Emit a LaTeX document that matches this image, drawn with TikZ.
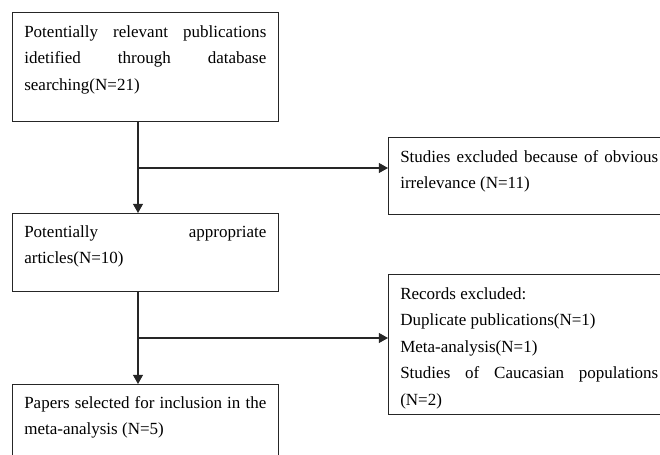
\documentclass[tikz,border=0pt]{standalone}
\usepackage{fontspec}
\setmainfont{Liberation Serif}
\usepackage{tikz}
\usetikzlibrary{%
  arrows.meta,%
  calc,%
}

\begin{document}
\begin{tikzpicture}[x=0.025cm, y=-0.025cm,
    >={Triangle[length=2.3mm, width=2.5mm]},
    box/.style={draw=black!85, line width=0.8pt, anchor=north west,
      inner sep=0pt},
    txt/.style={anchor=base west, inner sep=0pt, align=justify,
      font=\fontsize{12.1}{18.9}\selectfont},
    link/.style={draw=black!85, line width=0.9pt}]

      \useasboundingbox (0, 0) rectangle (660, 455);
      \clip (0, 0) rectangle (660, 455);

      % left column
      \node[box, minimum width=6.65cm, minimum height=2.725cm] (pub) at (12, 12) {};
      \node[txt, text width=6.05cm] (pubtxt) at (24, 37)
        {Potentially relevant publications\linebreak
         idetified through database\linebreak
         searching(N=21)};

      \node[box, minimum width=6.65cm, minimum height=1.95cm] (art) at (12, 213) {};
      \node[txt, text width=6.05cm] (arttxt) at (24, 237)
        {Potentially appropriate\linebreak
         articles(N=10)};

      \node[box, minimum width=6.65cm, minimum height=2.5cm] (sel) at (12, 384) {};
      \node[txt, text width=6.05cm] (seltxt) at (24, 408)
        {Papers selected for inclusion in the meta-analysis (N=5)};

      % right column
      \node[box, minimum width=7.5cm, minimum height=1.925cm] (irr) at (388, 137) {};
      \node[txt, text width=6.45cm] (irrtxt) at (400, 162)
        {Studies excluded because of obvious\linebreak
         irrelevance (N=11)};

      \node[box, minimum width=7.5cm, minimum height=3.5cm] (rec) at (388, 274) {};
      \node[txt, text width=6.45cm] (rectxt) at (400, 299)
        {Records excluded:\\
         Duplicate publications(N=1)\\
         Meta-analysis(N=1)\\
         Studies of Caucasian populations\linebreak
         (N=2)};

      % connectors
      \coordinate (spine) at (138, 0);
      \coordinate (j1) at (138, 168);
      \coordinate (j2) at (138, 338);

      \draw [link, ->] (pub.south -| spine) -- (art.north -| spine);
      \draw [link, ->] (j1) -- (j1 -| irr.west);

      \draw [link, ->] (art.south -| spine) -- (sel.north -| spine);
      \draw [link, ->] (j2) -- (j2 -| rec.west);

\end{tikzpicture}
\end{document}
